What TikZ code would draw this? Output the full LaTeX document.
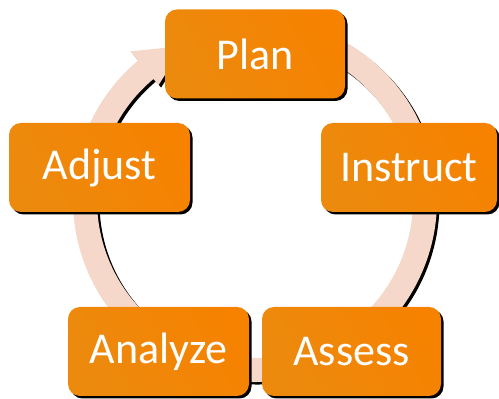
\documentclass[tikz,border=0pt]{standalone}
\usepackage{fontspec}
\setmainfont{Carlito}
\definecolor{ringc}{RGB}{246,216,203}
\definecolor{orA}{RGB}{236,138,14}
\definecolor{orB}{RGB}{246,130,0}
\begin{document}
\begin{tikzpicture}[x=1pt,y=1pt,
  stagebox/.style={rounded corners=12pt, minimum width=#1, minimum height=89pt,
    left color=orA, right color=orB, shading angle=120, text=white,
    font=\fontsize{44}{50}\selectfont, inner sep=0pt, outer sep=0pt},
  boxshadow/.style={fill=black, rounded corners=12pt}]
\useasboundingbox (0,0) rectangle (499,399);
% ring with arrowhead
\def\ringpath{(60:182) arc[start angle=60, end angle=-230, radius=182]
   -- (-230:194) -- (-245:170) -- (-230:150)
   -- (-230:158) arc[start angle=-230, end angle=60, radius=158] -- cycle}
\begin{scope}[shift={(257.5,196.5)}]
  \fill[black] \ringpath;
\end{scope}
\begin{scope}[shift={(255,199)}]
  \fill[ringc] \ringpath;
\end{scope}
% node positions
\coordinate (pPlan) at (255,345);
\coordinate (pAdj) at (99.5,231.5);
\coordinate (pIns) at (409,231.5);
\coordinate (pAna) at (158.5,47.5);
\coordinate (pAss) at (351.5,47.5);
% shadows
\foreach \p/\w in {pPlan/180, pAdj/181, pIns/176, pAna/181, pAss/179}{
  \node[boxshadow, minimum width=\w pt, minimum height=89pt, inner sep=0pt] at ([shift={(2.5,-2.5)}]\p) {};
}
\node[stagebox=180pt] (plan) at (pPlan) {Plan};
\node[stagebox=181pt] (adjust) at (pAdj) {Adjust};
\node[stagebox=176pt] (instruct) at (pIns) {Instruct};
\node[stagebox=181pt] (analyze) at (pAna) {Analyze};
\node[stagebox=179pt] (assess) at (pAss) {Assess};
\end{tikzpicture}
\end{document}
